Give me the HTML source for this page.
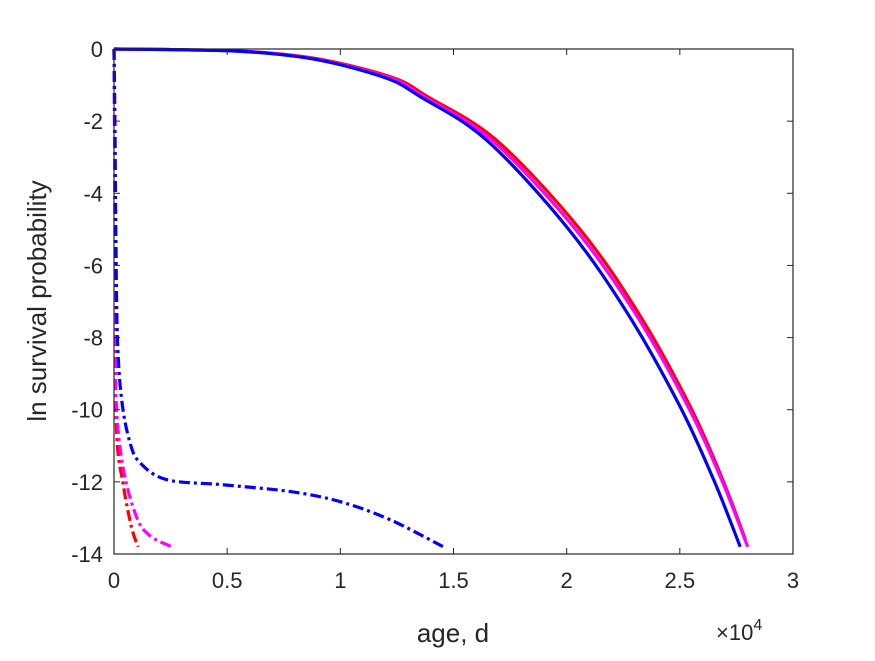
<!DOCTYPE html>
<html><head><meta charset="utf-8"><style>
html,body{margin:0;padding:0;background:#fff;}
svg text{font-family:"Liberation Sans",Arial,sans-serif;fill:#262626;}
</style></head><body>
<svg id="chart" width="875" height="656" viewBox="0 0 875 656">
<rect x="0" y="0" width="875" height="656" fill="#fff"/>
<g id="plot"></g>
<g id="axes"></g>
</svg>
<script>
const xTicks=[0,0.5,1,1.5,2,2.5,3];
const xTickLabels=["0","0.5","1","1.5","2","2.5","3"];
const yTicks=[0,-2,-4,-6,-8,-10,-12,-14];
const yTickLabels=["0","-2","-4","-6","-8","-10","-12","-14"];
// x in units of 1e4 days
const blueSolidX=[0,0.3,0.6,0.9,1.2,1.353,1.647,2.0,2.266,2.5,2.65,2.767];
const blueSolidY=[0,-0.02,-0.08,-0.3,-0.8,-1.32,-2.53,-4.93,-7.3,-9.9,-11.95,-13.8];
const magSolidX=[0,0.3,0.61,0.91,1.22,1.37,1.67,2.03,2.3,2.535,2.685,2.80];
const magSolidY=[0,-0.02,-0.08,-0.3,-0.8,-1.32,-2.53,-4.93,-7.3,-9.9,-11.95,-13.8];
const redSolidX=[0,0.3,0.62,0.925,1.235,1.385,1.69,2.05,2.315,2.545,2.69,2.79];
const redSolidY=[0,-0.02,-0.08,-0.3,-0.8,-1.32,-2.53,-4.93,-7.3,-9.9,-11.95,-13.6];
const blueDashX=[0,0.004,0.008,0.015,0.034,0.07,0.115,0.233,0.48,0.78,1.0,1.22,1.455];
const blueDashY=[0,-2,-5,-8,-9.73,-10.9,-11.47,-11.94,-12.08,-12.27,-12.55,-13.05,-13.8];
const magDashX=[0,0.003,0.006,0.009,0.04,0.1,0.16,0.255];
const magDashY=[0,-3,-7,-9.73,-11.6,-12.98,-13.5,-13.8];
const redDashX=[0,0.003,0.006,0.012,0.04,0.078,0.107];
const redDashY=[0,-3,-7,-10.65,-12.05,-13.27,-13.8];

const X0=114,X1=793,Y0=49,Y1=554;
const sx=v=>X0+(v-0)/(3-0)*(X1-X0);
const sy=v=>Y0+(0-v)/(14)*(Y1-Y0);
const NS="http://www.w3.org/2000/svg";
const plot=document.getElementById('plot'), axes=document.getElementById('axes');
function mk(tag,attrs,parent){const e=document.createElementNS(NS,tag);for(const k in attrs)e.setAttribute(k,attrs[k]);parent.appendChild(e);return e;}
function series(xs,ys,color,dash,name){
  let d='';
  // Catmull-Rom smoothing in pixel space
  const p=xs.map((x,i)=>[sx(x),sy(ys[i])]);
  d='M'+p[0][0]+','+p[0][1];
  for(let i=0;i<p.length-1;i++){
    const p0=p[Math.max(0,i-1)],p1=p[i],p2=p[i+1],p3=p[Math.min(p.length-1,i+2)];
    const c1=[p1[0]+(p2[0]-p0[0])/6,p1[1]+(p2[1]-p0[1])/6];
    const c2=[p2[0]-(p3[0]-p1[0])/6,p2[1]-(p3[1]-p1[1])/6];
    d+=` C${c1[0]},${c1[1]} ${c2[0]},${c2[1]} ${p2[0]},${p2[1]}`;
  }
  const path=mk('path',{d:d,fill:'none',stroke:color,'stroke-width':3.2,'stroke-linejoin':'round'},plot);
  if(dash)path.setAttribute('stroke-dasharray','11,4,3,4');
  
  
}
series(redSolidX,redSolidY,'#ff0000',false,'red-solid-line');
series(magSolidX,magSolidY,'#ff00ff',false,'magenta-solid-line');
series(blueSolidX,blueSolidY,'#0000ff',false,'blue-solid-line');
series(redDashX,redDashY,'#ff0000',true,'red-dashdot-line');
series(magDashX,magDashY,'#ff00ff',true,'magenta-dashdot-line');
series(blueDashX,blueDashY,'#0000ff',true,'blue-dashdot-line');

const box=mk('rect',{x:X0,y:Y0,width:X1-X0,height:Y1-Y0,fill:'none',stroke:'#262626','stroke-width':1.2},axes);


xTicks.forEach((t,i)=>{
  const x=sx(t);
  mk('line',{x1:x,x2:x,y1:Y1,y2:Y1-6,stroke:'#262626','stroke-width':1},axes);
  mk('line',{x1:x,x2:x,y1:Y0,y2:Y0+6,stroke:'#262626','stroke-width':1},axes);
  const tx=mk('text',{x:x,y:Y1+34,'font-size':22,'text-anchor':'middle'},axes);
  tx.textContent=xTickLabels[i];
  
  
});
yTicks.forEach((t,i)=>{
  const y=sy(t);
  mk('line',{x1:X0,x2:X0+6,y1:y,y2:y,stroke:'#262626','stroke-width':1},axes);
  mk('line',{x1:X1,x2:X1-6,y1:y,y2:y,stroke:'#262626','stroke-width':1},axes);
  const ty=mk('text',{x:X0-11,y:y+8,'font-size':22,'text-anchor':'end'},axes);
  ty.textContent=yTickLabels[i];
  
  
});
const xl=mk('text',{x:453,y:642,'font-size':26,'text-anchor':'middle'},axes);
xl.textContent='age, d';


const yl=mk('text',{x:0,y:0,'font-size':26,'text-anchor':'middle',transform:'translate(46,301) rotate(-90)'},axes);
yl.textContent='ln survival probability';


const ex=mk('text',{x:716,y:640,'font-size':22},axes);
ex.innerHTML='×10<tspan font-size="16" dy="-10">4</tspan>';


</script>
</body></html>
